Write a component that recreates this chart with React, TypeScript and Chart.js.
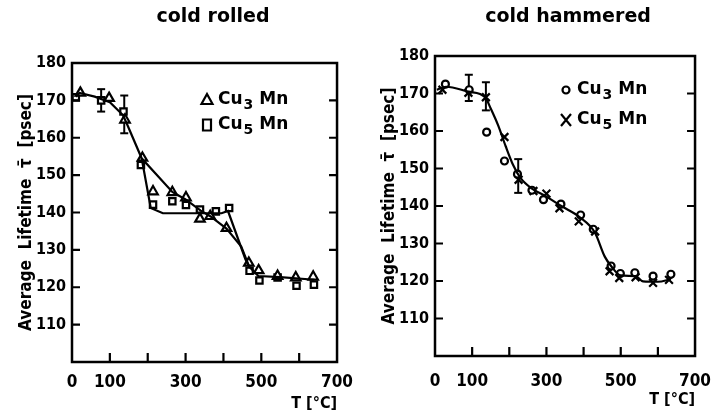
import React, { useEffect, useRef } from 'react';
import { Chart, registerables } from 'chart.js';

Chart.register(...registerables);

// ---------- axis ticks ----------
const xTickValues = [0, 100, 200, 300, 400, 500, 600, 700];
const xTickLabels = [0, 100, 300, 500, 700];
const yTickLabels = [110, 120, 130, 140, 150, 160, 170, 180];

// ---------- cold rolled ----------
const rolledCu3T = [22, 98, 140, 186, 214, 265, 301, 338, 365, 408, 467, 493, 543, 591, 637];
const rolledCu3V = [172, 170.6, 164.8, 154.6, 145.6, 145.4, 144, 138.3, 139, 135.8, 126.5, 124.5, 123, 122.6, 122.8];
const rolledCu5T = [10, 77, 136, 182, 214, 265, 301, 338, 380, 415, 469, 495, 543, 593, 639];
const rolledCu5V = [170.8, 170, 167, 152.7, 142.1, 143, 142, 140.8, 140.3, 141.2, 124.4, 121.8, 122.6, 120.4, 120.7];
const rolledFitCu3T = [10, 20, 60, 100, 135, 148, 184, 265, 300, 340, 365, 408, 447, 468, 492, 550, 640];
const rolledFitCu3V = [171, 172, 171, 169.5, 166, 163, 154.5, 145.5, 143.5, 140.5, 139, 135.7, 130.9, 125.5, 123, 122.7, 122];
const rolledFitCu5T = [184, 208, 240, 330, 395, 412, 458, 468];
const rolledFitCu5V = [154.5, 141.2, 139.8, 139.8, 139.8, 140.4, 127.5, 125.5];
const rolledErrT = [77, 138];
const rolledErrLow = [167, 161.2];
const rolledErrHigh = [173, 171.3];

// ---------- cold hammered ----------
const hammeredCu3T = [28, 92, 139, 187, 222, 261, 292, 339, 392, 426, 474, 499, 538, 587, 635];
const hammeredCu3V = [172.5, 171, 159.7, 152, 148.5, 144.2, 141.7, 140.5, 137.6, 133.8, 124, 122, 122.2, 121.3, 121.8];
const hammeredCu5T = [20, 90, 137, 187, 225, 265, 300, 335, 387, 431, 470, 496, 540, 587, 630];
const hammeredCu5V = [171, 170.2, 169, 158.4, 147, 144, 143.3, 139.4, 135.9, 133.2, 122.6, 120.8, 121, 119.5, 120.3];
const hammeredFitT = [5, 30, 90, 135, 150, 170, 190, 210, 230, 260, 300, 340, 390, 430, 457, 474, 500, 540, 560, 600, 635];
const hammeredFitV = [171, 171.8, 170.5, 169, 166, 161.5, 156, 151, 147.5, 144.7, 142.5, 140, 137, 133, 126.5, 124, 121.5, 121.3, 119.9, 119.8, 120.5];
const hammeredErrT = [91, 137, 224];
const hammeredErrLow = [168, 165.5, 143.5];
const hammeredErrHigh = [175, 173, 152.5];

const NARROW = "'DejaVu Sans Condensed', 'DejaVu Sans', sans-serif";
const ROUND = "'DejaVu Sans', sans-serif";

const pts = (xs: number[], ys: number[]) => xs.map((x, i) => ({ x, y: ys[i] }));

function drawMarker(ctx: CanvasRenderingContext2D, style: string, x: number, y: number) {
  ctx.save();
  ctx.strokeStyle = '#000';
  ctx.fillStyle = '#fff';
  ctx.lineWidth = 2.2;
  ctx.beginPath();
  if (style === 'triangle') {
    ctx.moveTo(x, y - 6);
    ctx.lineTo(x + 5.5, y + 4);
    ctx.lineTo(x - 5.5, y + 4);
    ctx.closePath();
  } else if (style === 'rect') {
    ctx.rect(x - 4, y - 5.5, 8, 11);
  } else if (style === 'circle') {
    ctx.arc(x, y, 3.5, 0, Math.PI * 2);
  } else if (style === 'crossRot') {
    ctx.moveTo(x - 5, y - 6);
    ctx.lineTo(x + 5, y + 6);
    ctx.moveTo(x + 5, y - 6);
    ctx.lineTo(x - 5, y + 6);
  }
  ctx.fill();
  ctx.stroke();
  ctx.restore();
}

type Spec = {
  left: number;
  title: string;
  titleX: number;
  padTop: number;
  padRight: number;
  xHeight: number;
  xPad: number;
  xTitlePad: number;
  legendX: number;
  legendY: number[];
  cu3Style: string;
  cu5Style: string;
  cu3: { x: number; y: number }[];
  cu5: { x: number; y: number }[];
  fits: { x: number; y: number }[][];
  tension: number;
  err: { t: number[]; lo: number[]; hi: number[] };
};

function buildConfig(spec: Spec): any {
  const black = '#000';
  const datasets: any[] = [];
  spec.fits.forEach((f) => {
    datasets.push({
      data: f,
      borderColor: black,
      borderWidth: 2.2,
      pointRadius: 0,
      fill: false,
      tension: spec.tension,
      cubicInterpolationMode: spec.tension > 0 ? 'monotone' : 'default',
    });
  });
  datasets.push({
    data: spec.cu3,
    showLine: false,
    pointStyle: spec.cu3Style,
    pointRadius: spec.cu3Style === 'circle' ? 3.5 : 5.5,
    pointBorderWidth: 2.2,
    pointBorderColor: black,
    pointBackgroundColor: '#fff',
  });
  datasets.push({
    data: spec.cu5,
    showLine: false,
    pointStyle: spec.cu5Style,
    pointRadius: spec.cu5Style === 'rect' ? 4.5 : 5.5,
    pointBorderWidth: 2.2,
    pointBorderColor: black,
    pointBackgroundColor: '#fff',
  });
  spec.err.t.forEach((t, i) => {
    datasets.push({
      data: [
        { x: t, y: spec.err.lo[i] },
        { x: t, y: spec.err.hi[i] },
      ],
      borderColor: black,
      borderWidth: 2,
      pointStyle: 'line',
      pointRadius: 4,
      pointBorderWidth: 2,
      pointBorderColor: black,
    });
  });

  const framePlugin = {
    id: 'frame',
    afterDraw(chart: any) {
      const { ctx, chartArea } = chart;
      const { left, right, top, bottom } = chartArea;
      const xs = chart.scales.x;
      const ys = chart.scales.y;
      ctx.save();
      ctx.strokeStyle = '#000';
      ctx.lineWidth = 2.5;
      ctx.strokeRect(left, top, right - left, bottom - top);
      ctx.lineWidth = 2.2;
      ctx.beginPath();
      yTickLabels.slice(0, -1).forEach((v) => {
        const y = ys.getPixelForValue(v);
        ctx.moveTo(left, y);
        ctx.lineTo(left + 8, y);
        ctx.moveTo(right, y);
        ctx.lineTo(right - 8, y);
      });
      xTickValues.slice(1, -1).forEach((v) => {
        const x = xs.getPixelForValue(v);
        ctx.moveTo(x, bottom);
        ctx.lineTo(x, bottom - 9);
      });
      ctx.stroke();

      // title
      ctx.fillStyle = '#000';
      ctx.font = `bold 19px ${ROUND}`;
      ctx.textAlign = 'center';
      ctx.textBaseline = 'middle';
      ctx.fillText(spec.title, spec.titleX, 17);

      // legend
      const items = [
        { style: spec.cu3Style, sub: '3' },
        { style: spec.cu5Style, sub: '5' },
      ];
      items.forEach((it, i) => {
        const y = spec.legendY[i];
        drawMarker(ctx, it.style, spec.legendX, y);
        let x = spec.legendX + 11;
        ctx.textAlign = 'left';
        ctx.textBaseline = 'middle';
        ctx.font = `bold 17px ${ROUND}`;
        ctx.fillText('Cu', x, y);
        x += ctx.measureText('Cu').width + 1;
        ctx.font = `bold 14px ${ROUND}`;
        ctx.fillText(it.sub, x, y + 5);
        x += ctx.measureText(it.sub).width;
        ctx.font = `bold 17px ${ROUND}`;
        ctx.fillText(' Mn', x, y);
      });
      ctx.restore();
    },
  };

  return {
    type: 'line',
    data: { datasets },
    plugins: [framePlugin],
    options: {
      animation: false,
      responsive: false,
      devicePixelRatio: 1,
      layout: { padding: { top: spec.padTop, right: spec.padRight, left: 0, bottom: 0 } },
      plugins: {
        legend: { display: false },
        tooltip: { enabled: false },
        title: { display: false },
      },
      scales: {
        x: {
          type: 'linear',
          min: 0,
          max: 700,
          grid: { display: false, drawTicks: false },
          border: { display: false },
          ticks: {
            stepSize: 100,
            autoSkip: false,
            maxRotation: 0,
            padding: spec.xPad,
            color: '#000',
            font: { family: NARROW, size: 17, weight: 'bold' },
            callback: (v: number) => (xTickLabels.includes(v) ? String(v) : ''),
          },
          title: {
            display: true,
            text: 'T [°C]',
            align: 'end',
            color: '#000',
            font: { family: NARROW, size: 16, weight: 'bold', lineHeight: 1.1 },
            padding: { top: 0, bottom: spec.xTitlePad },
          },
          afterFit: (s: any) => {
            s.height = spec.xHeight;
          },
        },
        y: {
          type: 'linear',
          min: 100,
          max: 180,
          grid: { display: false, drawTicks: false },
          border: { display: false },
          ticks: {
            stepSize: 10,
            padding: 6,
            color: '#000',
            font: { family: NARROW, size: 16, weight: 'bold' },
            callback: (v: number) => (yTickLabels.includes(v) ? String(v) : ''),
          },
          title: {
            display: true,
            text: 'Average  Lifetime  τ̄  [psec]',
            color: '#000',
            font: { family: NARROW, size: 17, weight: 'bold', lineHeight: 1.1 },
            padding: { top: 17, bottom: 0 },
          },
          afterFit: (s: any) => {
            s.width = 72;
          },
        },
      },
    },
  };
}

const rolledSpec: Spec = {
  left: 0,
  title: 'cold rolled',
  titleX: 213,
  padTop: 63,
  padRight: 23,
  xHeight: 51,
  xPad: 10,
  xTitlePad: 0,
  legendX: 207,
  legendY: [100, 125],
  cu3Style: 'triangle',
  cu5Style: 'rect',
  cu3: pts(rolledCu3T, rolledCu3V),
  cu5: pts(rolledCu5T, rolledCu5V),
  fits: [pts(rolledFitCu3T, rolledFitCu3V), pts(rolledFitCu5T, rolledFitCu5V)],
  tension: 0,
  err: { t: rolledErrT, lo: rolledErrLow, hi: rolledErrHigh },
};

const hammeredSpec: Spec = {
  left: 363,
  title: 'cold hammered',
  titleX: 205,
  padTop: 56,
  padRight: 24,
  xHeight: 57,
  xPad: 15,
  xTitlePad: 4,
  legendX: 203,
  legendY: [90, 120],
  cu3Style: 'circle',
  cu5Style: 'crossRot',
  cu3: pts(hammeredCu3T, hammeredCu3V),
  cu5: pts(hammeredCu5T, hammeredCu5V),
  fits: [pts(hammeredFitT, hammeredFitV)],
  tension: 0.4,
  err: { t: hammeredErrT, lo: hammeredErrLow, hi: hammeredErrHigh },
};

function Panel({ spec }: { spec: Spec }) {
  const ref = useRef<HTMLCanvasElement>(null);
  useEffect(() => {
    const chart = new Chart(ref.current as HTMLCanvasElement, buildConfig(spec));
    return () => chart.destroy();
  }, [spec]);
  return (
    <canvas
      ref={ref}
      width={363}
      height={413}
      style={{ position: 'absolute', left: spec.left, top: 0, width: 363, height: 413 }}
    />
  );
}

export default function App() {
  return (
    <div style={{ position: 'absolute', left: 0, top: 0, width: 726, height: 413, background: '#fff' }}>
      <Panel spec={rolledSpec} />
      <Panel spec={hammeredSpec} />
    </div>
  );
}
